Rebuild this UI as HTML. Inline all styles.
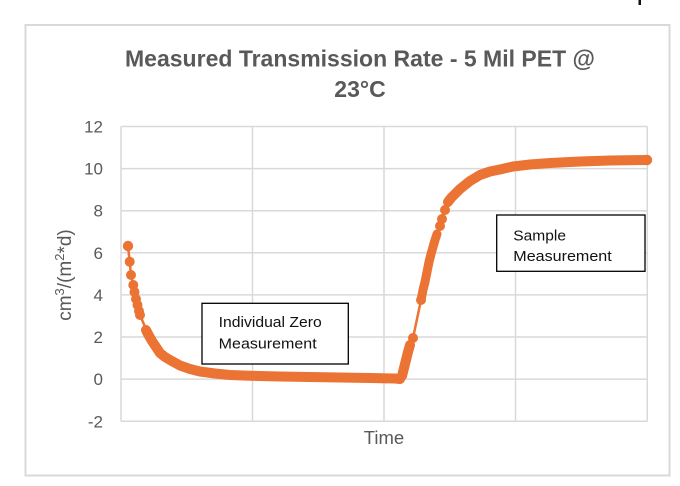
<!DOCTYPE html>
<html><head><meta charset="utf-8"><style>
html,body{margin:0;padding:0;background:#fff;}
svg{display:block;}
text{font-family:"Liberation Sans",sans-serif;}
</style></head><body>
<svg width="680" height="486" viewBox="0 0 680 486" xmlns="http://www.w3.org/2000/svg">
<rect x="0" y="0" width="680" height="486" fill="#fff"/>
<rect x="638.5" y="0" width="2.5" height="5" fill="#111"/>
<rect x="25.5" y="25" width="644" height="450.5" fill="#fff" stroke="#d9d9d9" stroke-width="2"/>
<!-- title -->
<text x="125" y="66.7" font-size="23" font-weight="bold" fill="#595959" textLength="470" lengthAdjust="spacingAndGlyphs">Measured Transmission Rate - 5 Mil PET @</text>
<text x="360" y="97" font-size="23" font-weight="bold" fill="#595959" text-anchor="middle">23°C</text>
<!-- grid -->
<g stroke="#d9d9d9" stroke-width="1.5" fill="none">
<line x1="121" y1="126.5" x2="647.3" y2="126.5"/>
<line x1="121" y1="168.6" x2="647.3" y2="168.6"/>
<line x1="121" y1="210.7" x2="647.3" y2="210.7"/>
<line x1="121" y1="252.8" x2="647.3" y2="252.8"/>
<line x1="121" y1="294.9" x2="647.3" y2="294.9"/>
<line x1="121" y1="337" x2="647.3" y2="337"/>
<line x1="121" y1="379.1" x2="647.3" y2="379.1"/>
<line x1="121" y1="421.3" x2="647.3" y2="421.3"/>
<line x1="121" y1="126.5" x2="121" y2="421.3"/>
<line x1="252.5" y1="126.5" x2="252.5" y2="421.3"/>
<line x1="384" y1="126.5" x2="384" y2="421.3"/>
<line x1="515.5" y1="126.5" x2="515.5" y2="421.3"/>
<line x1="647.3" y1="126.5" x2="647.3" y2="421.3"/>
</g>
<!-- y tick labels -->
<g font-size="17" fill="#595959" text-anchor="end">
<text x="103" y="132.5">12</text>
<text x="103" y="174.6">10</text>
<text x="103" y="216.7">8</text>
<text x="103" y="258.8">6</text>
<text x="103" y="300.9">4</text>
<text x="103" y="343">2</text>
<text x="103" y="385.1">0</text>
<text x="103" y="427.3">-2</text>
</g>
<!-- axis titles -->
<text x="384" y="444" font-size="18.5" fill="#595959" text-anchor="middle">Time</text>
<text transform="translate(71,275) rotate(-90)" font-size="19" fill="#595959" text-anchor="middle">cm<tspan font-size="13" dy="-7">3</tspan><tspan dy="7">/(m</tspan><tspan font-size="13" dy="-7">2</tspan><tspan dy="7">*d)</tspan></text>
<!-- series -->
<g stroke="#eb7333" fill="none" stroke-linecap="round" stroke-linejoin="round">
<polyline stroke-width="2.5" points="128,246 129.7,261.7 131,275 133.3,285 134.5,292 136,299 137.5,305 139,311 140,315 148,334 152,341 156,347 160,353 165,357 170,360 180,365.5 190,369 200,371.5 215,373.5 230,375 250,375.8 280,376.5 310,377 340,377.5 370,378 395,378.5 400,379 402,376 404,368 406,360 408,352 410,345 413,338 421,300 423,290 425,282 427,272 429,262 431,254 433,247 435,240 437,234 440,226 442,219 445,210 448,202 451,198 455,194 460,189 465,185 470,181 480,175 490,171.5 500,169.5 513,166.5 530,164.5 550,163 580,161.5 610,160.5 647,160"/>
<polyline stroke-width="10" points="146,330 148,334 152,341 156,347 160,353 165,357 170,360 180,365.5 190,369 200,371.5 215,373.5 230,375 250,375.8 280,376.5 310,377 340,377.5 370,378 395,378.5 400,379"/>
<polyline stroke-width="10" points="402,376 404,368 406,360 408,352 410,345"/>
<polyline stroke-width="9" points="421,300 423,290 425,282 427,272 429,262 431,254 433,247 435,240 437,234"/>
<polyline stroke-width="10" points="448,202 451,198 455,194 460,189 465,185 470,181 480,175 490,171.5 500,169.5 513,166.5 530,164.5 550,163 580,161.5 610,160.5 647,160"/>
</g>
<g fill="#eb7333">
<circle cx="128" cy="246" r="5.2"/>
<circle cx="129.7" cy="261.7" r="5"/>
<circle cx="131" cy="275" r="5"/>
<circle cx="133.3" cy="285" r="5"/>
<circle cx="134.5" cy="292" r="5"/>
<circle cx="136" cy="299" r="5"/>
<circle cx="137.5" cy="305" r="5"/>
<circle cx="139" cy="311" r="5"/>
<circle cx="140" cy="315" r="5"/>
<circle cx="148" cy="334" r="5"/>
<circle cx="413" cy="338" r="5"/>
<circle cx="421" cy="300" r="5"/>
<circle cx="440" cy="226" r="5"/>
<circle cx="442" cy="219" r="5"/>
<circle cx="445" cy="210" r="5"/>
<circle cx="647" cy="160" r="5.2"/>
</g>
<!-- annotation boxes -->
<rect x="202" y="303.3" width="146.3" height="60.7" fill="#fff" stroke="#000" stroke-width="1.3"/>
<text x="218.7" y="327" font-size="14.5" fill="#111" textLength="103" lengthAdjust="spacingAndGlyphs">Individual Zero</text>
<text x="218.7" y="348.5" font-size="14.5" fill="#111" textLength="98" lengthAdjust="spacingAndGlyphs">Measurement</text>
<rect x="496.7" y="215" width="148.3" height="56.3" fill="#fff" stroke="#000" stroke-width="1.3"/>
<text x="513.3" y="240.5" font-size="14.5" fill="#111" textLength="52.7" lengthAdjust="spacingAndGlyphs">Sample</text>
<text x="513.3" y="261" font-size="14.5" fill="#111" textLength="98.4" lengthAdjust="spacingAndGlyphs">Measurement</text>
</svg>
</body></html>
